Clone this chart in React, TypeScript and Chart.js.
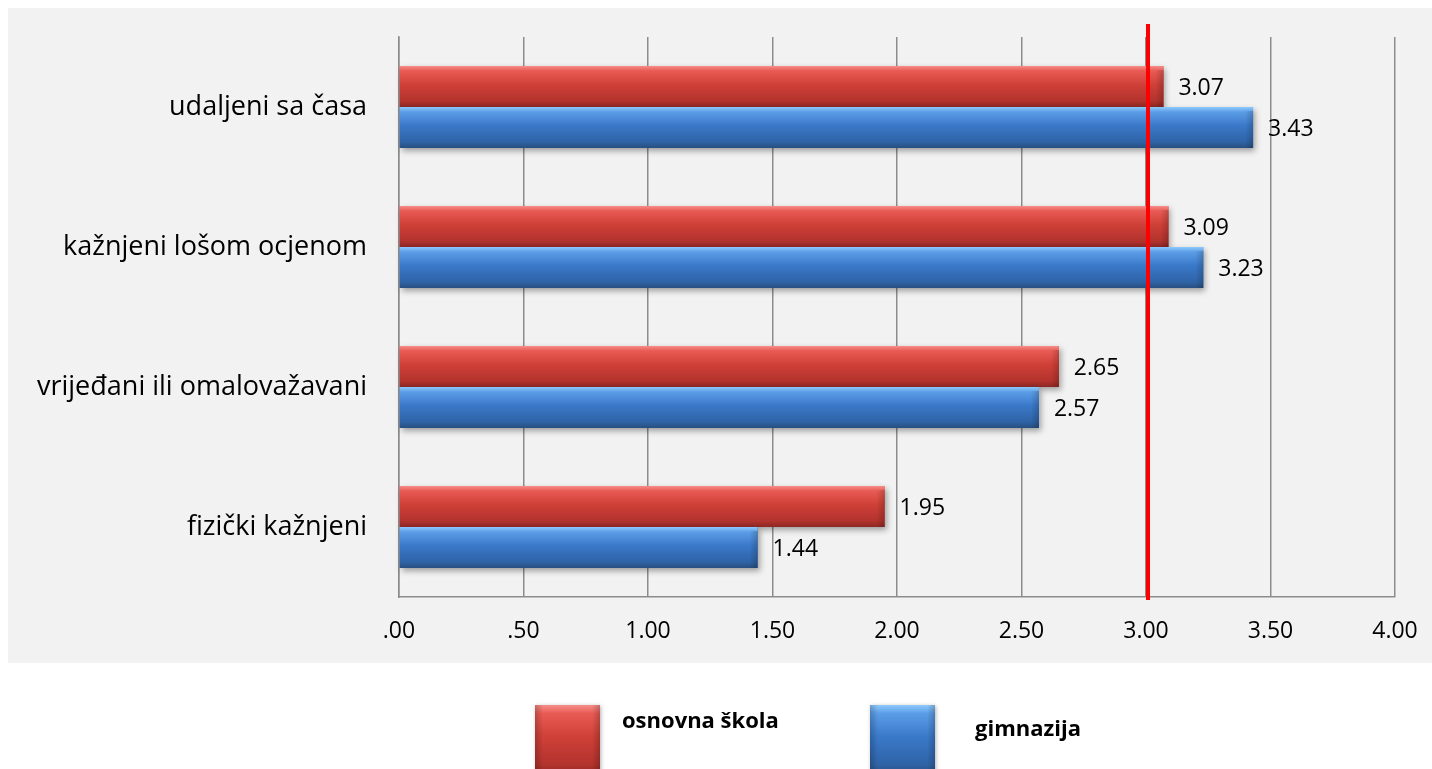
import React, { useEffect, useRef } from "react";
import { Chart, registerables } from "chart.js";

Chart.register(...registerables);

const categories = [
  "udaljeni sa časa",
  "kažnjeni lošom ocjenom",
  "vrijeđani ili omalovažavani",
  "fizički kažnjeni",
];
const seriesNames = ["osnovna škola", "gimnazija"];
const osnovnaSkola = [3.07, 3.09, 2.65, 1.95];
const gimnazija = [3.43, 3.23, 2.57, 1.44];
const xTickLabels = [".00", ".50", "1.00", "1.50", "2.00", "2.50", "3.00", "3.50", "4.00"];
const thresholdValue = 3.0;

const FONT = "'Open Sans', 'DejaVu Sans', sans-serif";

const palettes = [
  { stops: ["#f68e89", "#e85b54", "#cf4038", "#b3332d", "#8d2724"], mid: "#cf4038" },
  { stops: ["#8ecafc", "#5c9de7", "#3a79c9", "#2f63a7", "#284f7f"], mid: "#3a79c9" },
];

function fillGrad(ctx: CanvasRenderingContext2D, top: number, h: number, stops: string[]) {
  const g = ctx.createLinearGradient(0, top, 0, top + h);
  g.addColorStop(0, stops[0]);
  g.addColorStop(0.12, stops[1]);
  g.addColorStop(0.45, stops[2]);
  g.addColorStop(0.85, stops[3]);
  g.addColorStop(1, stops[4]);
  return g;
}

const decorPlugin = {
  id: "decor",
  beforeDraw(chart: any) {
    const ctx = chart.ctx as CanvasRenderingContext2D;
    ctx.save();
    ctx.fillStyle = "#ffffff";
    ctx.fillRect(0, 0, chart.width, chart.height);
    ctx.fillStyle = "#f2f2f2";
    ctx.fillRect(0, 0, chart.width, 655);
    ctx.restore();
  },
  afterDatasetsDraw(chart: any) {
    const ctx = chart.ctx as CanvasRenderingContext2D;
    chart.data.datasets.forEach((ds: any, di: number) => {
      const meta = chart.getDatasetMeta(di);
      const pal = palettes[di];
      meta.data.forEach((el: any, i: number) => {
        const p = el.getProps(["x", "y", "base", "height"], true);
        const top = p.y - p.height / 2;
        const left = Math.min(p.base, p.x);
        const w = Math.abs(p.x - p.base);
        ctx.save();
        ctx.shadowColor = "rgba(0,0,0,0.35)";
        ctx.shadowBlur = 6;
        ctx.shadowOffsetX = 2;
        ctx.shadowOffsetY = 3;
        ctx.fillStyle = fillGrad(ctx, top, p.height, pal.stops);
        ctx.fillRect(left, top, w, p.height);
        ctx.restore();
        ctx.save();
        const rg = ctx.createLinearGradient(p.x - 8, 0, p.x, 0);
        rg.addColorStop(0, "rgba(0,0,0,0)");
        rg.addColorStop(1, "rgba(0,0,0,0.18)");
        ctx.fillStyle = rg;
        ctx.fillRect(p.x - 8, top + 4, 8, p.height - 4);
        ctx.fillStyle = "#000000";
        ctx.font = `23px ${FONT}`;
        ctx.textAlign = "left";
        ctx.textBaseline = "middle";
        ctx.fillText(ds.data[i].toFixed(2), p.x + 15, p.y + 2);
        ctx.restore();
      });
    });
    const xs = chart.scales.x;
    const px = xs.getPixelForValue(thresholdValue) + 2;
    ctx.save();
    ctx.strokeStyle = "#ff0000";
    ctx.lineWidth = 4;
    ctx.beginPath();
    ctx.moveTo(px, chart.chartArea.top - 13);
    ctx.lineTo(px, chart.chartArea.bottom + 3);
    ctx.stroke();
    ctx.restore();
  },
  afterDraw(chart: any) {
    const ctx = chart.ctx as CanvasRenderingContext2D;
    const boxes = [
      { x: 527, tx: 614, ty: 714 },
      { x: 862, tx: 967, ty: 722 },
    ];
    chart.data.datasets.forEach((ds: any, di: number) => {
      const b = boxes[di];
      const pal = palettes[di];
      ctx.save();
      ctx.shadowColor = "rgba(0,0,0,0.3)";
      ctx.shadowBlur = 4;
      ctx.shadowOffsetX = 1;
      ctx.shadowOffsetY = 1;
      ctx.fillStyle = fillGrad(ctx, 697, 70, pal.stops);
      ctx.fillRect(b.x, 697, 65, 70);
      ctx.restore();
      ctx.save();
      const sg = ctx.createLinearGradient(b.x, 0, b.x + 65, 0);
      sg.addColorStop(0, "rgba(0,0,0,0.2)");
      sg.addColorStop(0.12, "rgba(0,0,0,0)");
      sg.addColorStop(0.88, "rgba(0,0,0,0)");
      sg.addColorStop(1, "rgba(0,0,0,0.2)");
      ctx.fillStyle = sg;
      ctx.fillRect(b.x, 697, 65, 70);
      ctx.fillStyle = "#000000";
      ctx.font = `bold 22px ${FONT}`;
      ctx.textAlign = "left";
      ctx.textBaseline = "middle";
      ctx.fillText(ds.label, b.tx, b.ty);
      ctx.restore();
    });
  },
};

export default function App() {
  const ref = useRef<HTMLCanvasElement | null>(null);
  useEffect(() => {
    if (!ref.current) return;
    const chart = new Chart(ref.current, {
      type: "bar",
      data: {
        labels: categories,
        datasets: [
          { label: seriesNames[0], data: osnovnaSkola, backgroundColor: palettes[0].mid },
          { label: seriesNames[1], data: gimnazija, backgroundColor: palettes[1].mid },
        ],
      },
      plugins: [decorPlugin],
      options: {
        indexAxis: "y",
        animation: false,
        responsive: false,
        layout: { padding: { left: 0, right: 37, top: 29, bottom: 112 } },
        datasets: { bar: { barPercentage: 1, categoryPercentage: 0.586 } },
        plugins: { legend: { display: false }, tooltip: { enabled: false } },
        scales: {
          x: {
            min: 0,
            max: 4,
            ticks: {
              stepSize: 0.5,
              padding: 21,
              color: "#000000",
              font: { family: FONT, size: 23 },
              callback: (_v: any, i: number) => xTickLabels[i],
            },
            grid: { display: true, color: "#8c8c8c", lineWidth: 1.5, drawTicks: false },
            border: { display: true, color: "#8c8c8c", width: 1.5 },
            afterFit: (s: any) => {
              s.height = 60;
              s.paddingLeft = 0;
              s.paddingRight = 0;
            },
          },
          y: {
            ticks: {
              padding: 32,
              color: "#000000",
              font: { family: FONT, size: 27 },
            },
            grid: { display: false, drawTicks: false },
            border: { display: true, color: "#8c8c8c", width: 1.5 },
            afterFit: (s: any) => {
              s.width = 391;
              s.paddingTop = 0;
              s.paddingBottom = 0;
            },
          },
        },
      },
    } as any);
    return () => chart.destroy();
  }, []);
  return (
    <div style={{ position: "fixed", left: 8, top: 8, width: 1424, height: 761 }}>
      <canvas ref={ref} width={1424} height={761} style={{ display: "block" }} />
    </div>
  );
}
